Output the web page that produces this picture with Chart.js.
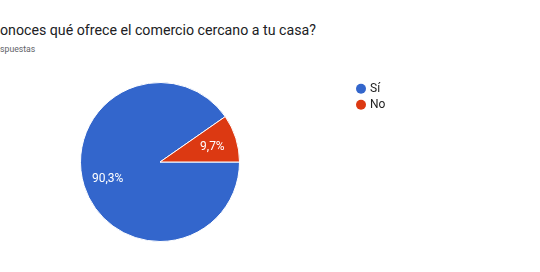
<!DOCTYPE html>
<html>
<head>
<meta charset="utf-8">
<script src="https://cdn.jsdelivr.net/npm/chart.js@4"></script>
<style>
  body { margin: 0; background: #fff; }
  #wrap { position: relative; width: 540px; height: 272px; overflow: hidden; font-family: Roboto, sans-serif; }
  #title { position: absolute; top: 22px; font-size: 14.2px; color: #202124; white-space: nowrap; }
  #sub { position: absolute; top: 43.5px; font-size: 8.7px; color: #5f6368; white-space: nowrap; }
  canvas { position: absolute; left: 0; top: 0; }
</style>
</head>
<body>
<div id="wrap">
  <div id="title">¿Conoces qué ofrece el comercio cercano a tu casa?</div>
  <div id="sub">31 respuestas</div>
  <canvas id="chart" width="540" height="272"></canvas>
</div>
<script>
const labels = ['Sí', 'No'];
const counts = [28, 3];
const percentLabels = ['90,3%', '9,7%'];
const colors = ['#3366cc', '#dc3912'];

document.addEventListener('DOMContentLoaded', () => {
    // clip the start of title and subtitle like the reference crop
    const m = document.createElement('canvas').getContext('2d');
    m.font = '14.2px Roboto';
    document.getElementById('title').style.left = (-m.measureText('¿C').width) + 'px';
    m.font = '8.7px Roboto';
    document.getElementById('sub').style.left = (-m.measureText('31 re').width) + 'px';

    // percentage text inside the slices
    const sliceLabels = {
        id: 'sliceLabels',
        afterDatasetsDraw(chart) {
            const ctx = chart.ctx;
            const meta = chart.getDatasetMeta(0);
            ctx.save();
            ctx.font = '12px Roboto';
            ctx.fillStyle = '#fff';
            ctx.textAlign = 'center';
            ctx.textBaseline = 'middle';
            meta.data.forEach((arc, i) => {
                const mid = (arc.startAngle + arc.endAngle) / 2;
                const r = arc.outerRadius * 0.69;
                ctx.fillText(percentLabels[i], arc.x + Math.cos(mid) * r, arc.y + Math.sin(mid) * r + 1);
            });
            ctx.restore();
        }
    };

    // legend on the right
    const sideLegend = {
        id: 'sideLegend',
        afterDraw(chart) {
            const ctx = chart.ctx;
            ctx.save();
            ctx.font = '12px Roboto';
            ctx.textBaseline = 'middle';
            labels.forEach((lab, i) => {
                const y = 88.7 + i * 16;
                ctx.fillStyle = colors[i];
                ctx.beginPath();
                ctx.arc(361, y, 5, 0, Math.PI * 2);
                ctx.fill();
                ctx.fillStyle = '#222';
                ctx.fillText(lab, 370, y);
            });
            ctx.restore();
        }
    };

    new Chart(document.getElementById('chart').getContext('2d'), {
        type: 'pie',
        data: {
            labels: labels,
            datasets: [{
                data: counts,
                backgroundColor: colors,
                borderColor: '#fff',
                borderWidth: 1
            }]
        },
        options: {
            responsive: false,
            animation: false,
            rotation: 90,
            layout: { padding: { left: 80, top: 82, right: 300, bottom: 30 } },
            plugins: {
                legend: { display: false },
                tooltip: { enabled: false }
            }
        },
        plugins: [sliceLabels, sideLegend]
    });
});
</script>
</body>
</html>
